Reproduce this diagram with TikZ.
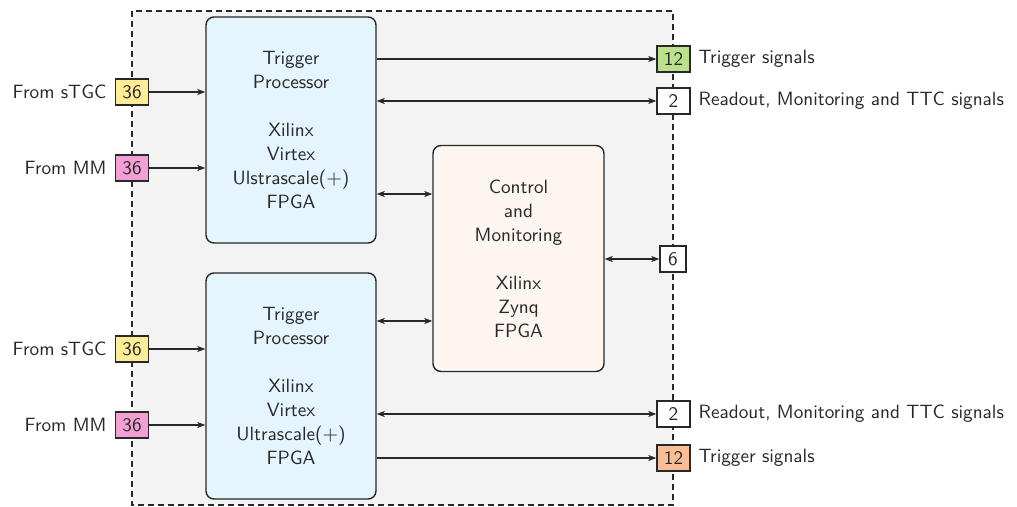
\documentclass[tikz,border=0pt]{standalone}
\usetikzlibrary{arrows.meta}
\renewcommand{\familydefault}{\sfdefault}
\definecolor{tpfill}{RGB}{229,245,253}
\definecolor{cmfill}{RGB}{253,245,240}
\definecolor{bgfill}{RGB}{243,243,243}
\definecolor{cyel}{RGB}{255,236,150}
\definecolor{cpink}{RGB}{242,160,212}
\definecolor{cgreen}{RGB}{188,225,140}
\definecolor{corange}{RGB}{250,190,150}
\definecolor{ink}{RGB}{40,40,40}
\tikzset{
  every node/.style={font=\fontsize{9.6}{12}\selectfont},
  bigbox/.style={draw=ink, line width=0.7pt, rounded corners=4pt, align=center,
    minimum width=85pt, minimum height=113pt, inner sep=0pt, text=ink},
  tpbox/.style={bigbox, fill=tpfill},
  cmbox/.style={bigbox, fill=cmfill},
  port/.style={draw=ink, line width=0.7pt, minimum width=16.5pt, minimum height=13pt, inner sep=0pt, text=ink},
  lbl/.style={inner sep=0pt, text=ink},
  arr/.style={draw=ink, line width=0.6pt, -{Stealth[length=4pt,width=3pt,inset=1pt]}},
  biarr/.style={draw=ink, line width=0.6pt, {Stealth[length=4pt,width=3pt,inset=1pt]}-{Stealth[length=4pt,width=3pt,inset=1pt]}},
}
\begin{document}
\begin{tikzpicture}[x=0.5pt,y=-0.5pt]
\useasboundingbox (0,0) rectangle (1017,507);
\draw[ink, dashed, line width=0.7pt, fill=bgfill, dash pattern=on 3pt off 2pt] (132,11) rectangle (673,505);

\node[tpbox] (tp1) at (291,130) {Trigger\\Processor\\[12pt]Xilinx\\Virtex\\Ulstrascale($+$)\\FPGA};
\node[tpbox] (tp2) at (291,386) {Trigger\\Processor\\[12pt]Xilinx\\Virtex\\Ultrascale($+$)\\FPGA};
\node[cmbox, minimum width=85.5pt] (cm) at (518.5,258.5) {Control\\and\\Monitoring\\[12pt]Xilinx\\Zynq\\FPGA};

\node[port, fill=cyel] (s1) at (132,92) {36};
\node[port, fill=cpink] (m1) at (132,168) {36};
\node[port, fill=cyel] (s2) at (132,349) {36};
\node[port, fill=cpink] (m2) at (132,425) {36};

\node[port, fill=cgreen] (t1) at (673.5,59) {12};
\node[port, fill=white] (r1) at (673.5,101) {2};
\node[port, fill=white, minimum width=13pt] (c6) at (673,259) {6};
\node[port, fill=white] (r2) at (673.5,414) {2};
\node[port, fill=corange] (t2) at (673.5,458) {12};

\node[lbl, anchor=east] (ls1) at ([xshift=-4pt]s1.west) {From sTGC};
\node[lbl, anchor=east] (lm1) at ([xshift=-4pt]m1.west) {From MM};
\node[lbl, anchor=east] (ls2) at ([xshift=-4pt]s2.west) {From sTGC};
\node[lbl, anchor=east] (lm2) at ([xshift=-4pt]m2.west) {From MM};

\node[lbl, anchor=west] (lt1) at ([xshift=3.8pt]t1.east) {Trigger signals};
\node[lbl, anchor=west] (lr1) at ([xshift=3.8pt]r1.east) {Readout, Monitoring and TTC signals};
\node[lbl, anchor=west] (lr2) at ([xshift=3.8pt]r2.east) {Readout, Monitoring and TTC signals};
\node[lbl, anchor=west] (lt2) at ([xshift=3.8pt]t2.east) {Trigger signals};

\draw[arr] (s1.east) -- (s1 -| tp1.west);
\draw[arr] (m1.east) -- (m1 -| tp1.west);
\draw[arr] (s2.east) -- (s2 -| tp2.west);
\draw[arr] (m2.east) -- (m2 -| tp2.west);

\draw[arr] (tp1.east |- t1) -- (t1.west);
\draw[biarr] (tp1.east |- r1) -- (r1.west);
\draw[biarr] ([yshift=-32pt]tp1.east) -- ([yshift=-32pt]tp1.east -| cm.west);
\draw[biarr] ([yshift=32.5pt]tp2.east) -- ([yshift=32.5pt]tp2.east -| cm.west);
\draw[biarr] (cm.east |- c6) -- (c6.west);
\draw[biarr] (tp2.east |- r2) -- (r2.west);
\draw[arr] (tp2.east |- t2) -- (t2.west);
\end{tikzpicture}
\end{document}
